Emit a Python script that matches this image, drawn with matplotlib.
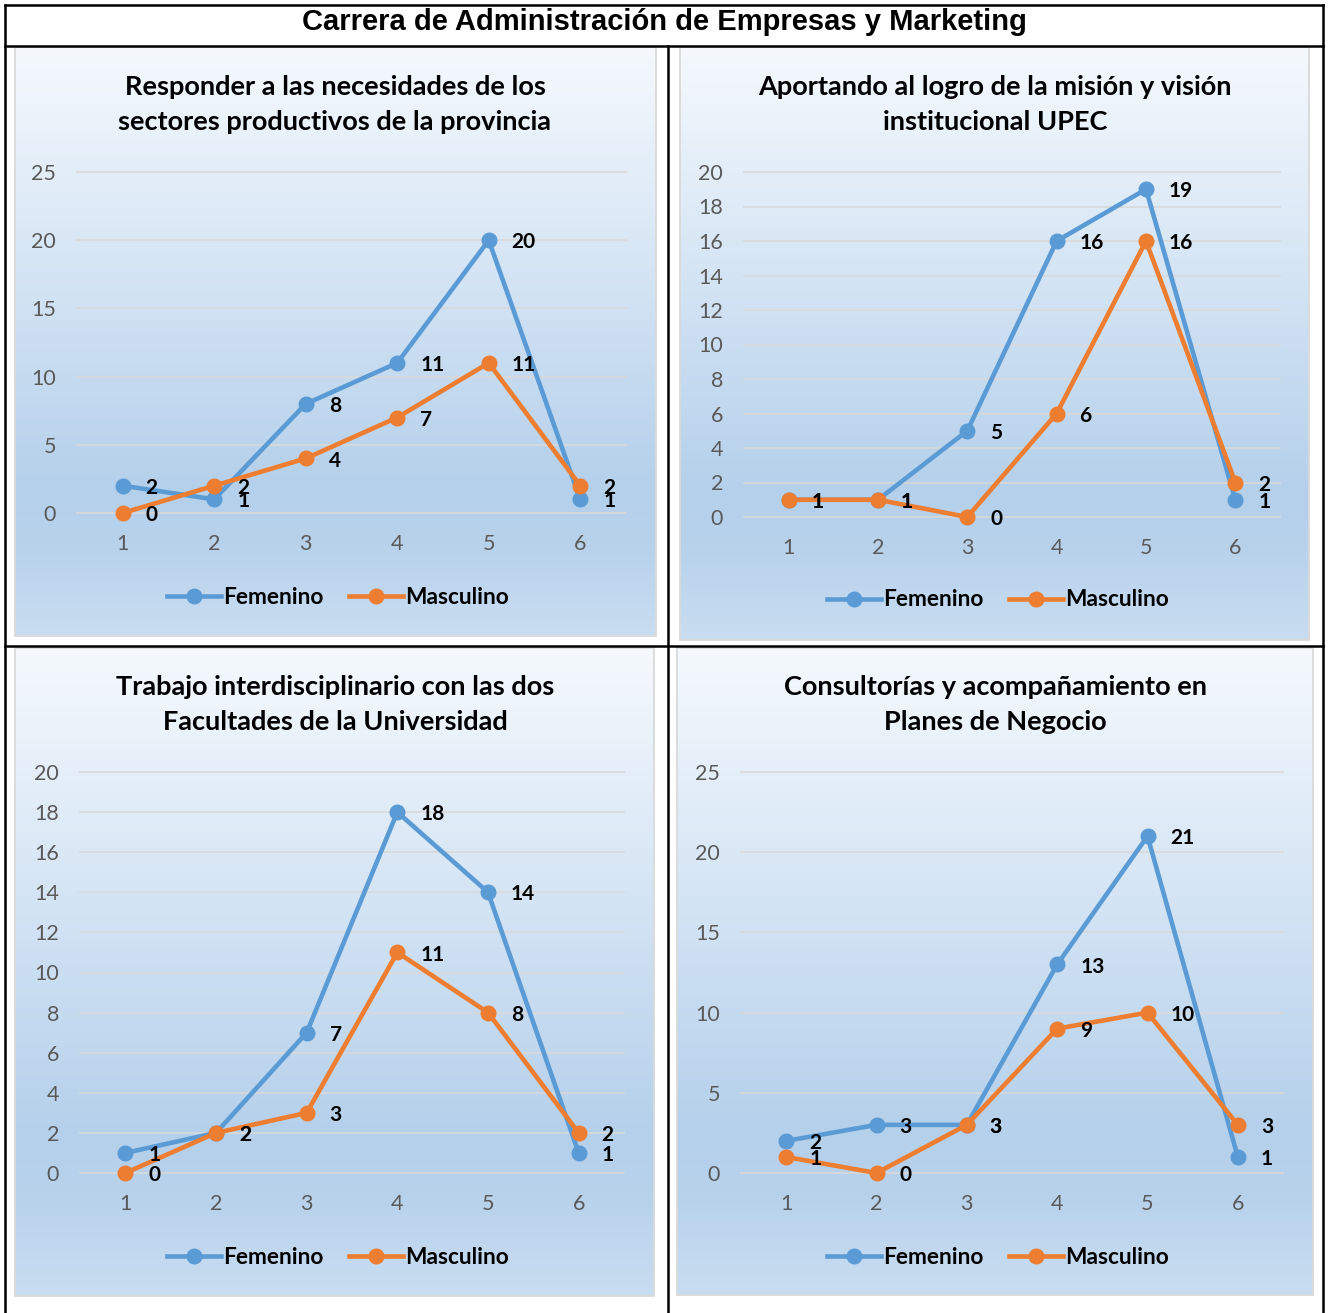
from __future__ import annotations

import matplotlib
import numpy as np
from matplotlib.colors import LinearSegmentedColormap
from matplotlib.lines import Line2D
from matplotlib.patches import Rectangle

matplotlib.use("Agg")
import matplotlib.pyplot as plt

W, H = 1330, 1313

header = "Carrera de Administración de Empresas y Marketing"
categories = [1, 2, 3, 4, 5, 6]
series_names = ["Femenino", "Masculino"]

titles = [
    ["Responder a las necesidades de los", "sectores productivos de la provincia"],
    ["Aportando al logro de la misión y visión", "institucional UPEC"],
    ["Trabajo interdisciplinario con las dos", "Facultades de la Universidad"],
    ["Consultorías y acompañamiento en", "Planes de Negocio"],
]

fem_sectores = [2, 1, 8, 11, 20, 1]
masc_sectores = [0, 2, 4, 7, 11, 2]
fem_mision = [1, 1, 5, 16, 19, 1]
masc_mision = [1, 1, 0, 6, 16, 2]
fem_interdis = [1, 2, 7, 18, 14, 1]
masc_interdis = [0, 2, 3, 11, 8, 2]
fem_consult = [2, 3, 3, 13, 21, 1]
masc_consult = [1, 0, 3, 9, 10, 3]

y_max = [25, 20, 20, 25]
y_step = [5, 2, 2, 5]

BLUE = "#5b9bd5"
ORANGE = "#ed7d31"
FONT = "Lato"

# pixel boxes (x0, y0, x1, y1) measured on the reference
panel_boxes = [(15, 47, 656, 636), (680, 47, 1309, 640),
               (15, 648, 654, 1296), (677, 648, 1313, 1295)]
plot_boxes = [(77, 172, 626, 513), (744, 172, 1280, 517),
              (80, 772, 624, 1173), (741, 772, 1283, 1173)]
title_centers = [(335, 87, 122), (995, 87, 122), (335, 687, 722), (995, 687, 722)]
legend_centers = [(338, 597), (998, 600), (338, 1257), (998, 1257)]


def _rect(box: tuple[int, int, int, int]) -> list[float]:
    x0, y0, x1, y1 = box
    return [x0 / W, 1 - y1 / H, (x1 - x0) / W, (y1 - y0) / H]


grad = LinearSegmentedColormap.from_list(
    "panel",
    [(0.0, "#f5f9fd"), (0.45, "#cfe1f3"), (0.75, "#b5d0eb"), (0.85, "#b8d2ec"), (1.0, "#c9ddf1")],
)

fig = plt.figure(figsize=(W / 100, H / 100), dpi=100)

# table borders
for x0, y0, x1, y1 in [(5, 5, 1323, 5), (5, 46, 1323, 46), (5, 646, 1323, 646),
                       (5, 5, 5, 1313), (1323, 5, 1323, 1313), (668, 46, 668, 1313)]:
    fig.add_artist(Line2D([x0 / W, x1 / W], [1 - y0 / H, 1 - y1 / H],
                          color="black", linewidth=1.8, transform=fig.transFigure))

fig.text(664 / W, 1 - 22 / H, header, ha="center", va="center",
         fontsize=21, fontweight="bold", family="Liberation Sans")

panel_data = [
    (fem_sectores, masc_sectores),
    (fem_mision, masc_mision),
    (fem_interdis, masc_interdis),
    (fem_consult, masc_consult),
]

for i, (fem, masc) in enumerate(panel_data):
    bg = fig.add_axes(_rect(panel_boxes[i]), zorder=0)
    bg.imshow(np.linspace(0, 1, 256).reshape(-1, 1), cmap=grad, aspect="auto",
              extent=(0, 1, 0, 1))
    bg.add_patch(Rectangle((0, 0), 1, 1, transform=bg.transAxes, fill=False,
                           edgecolor="#d9d9d9", linewidth=1.3, clip_on=False))
    bg.set_axis_off()

    ax = fig.add_axes(_rect(plot_boxes[i]), zorder=1)
    ax.patch.set_alpha(0)
    for sp in ax.spines.values():
        sp.set_visible(False)

    lines = []
    for vals, color, name in [(fem, BLUE, series_names[0]), (masc, ORANGE, series_names[1])]:
        (ln,) = ax.plot(categories, vals, color=color, linewidth=3.3, marker="o",
                        markersize=10.5, label=name, clip_on=False, zorder=3)
        lines.append(ln)
        for x, v in zip(categories, vals):
            ax.annotate(str(v), (x, v), xytext=(16.5, -1.5), textcoords="offset points",
                        ha="left", va="center", fontsize=15, fontweight="bold",
                        family=FONT, color="black", zorder=4)

    ax.set_xlim(0.5, 6.5)
    ax.set_ylim(0, y_max[i])
    ax.set_xticks(categories)
    ax.set_yticks(np.arange(0, y_max[i] + 1, y_step[i]))
    ax.grid(axis="y", color="#d9d9d9", linewidth=1.2, zorder=1)
    for gl in ax.get_ygridlines():
        gl.set_clip_on(False)
    ax.set_axisbelow(True)
    ax.tick_params(axis="both", length=0, labelsize=15.5, labelcolor="#595959")
    ax.tick_params(axis="y", pad=15)
    ax.tick_params(axis="x", pad=15)
    for lab in ax.get_xticklabels() + ax.get_yticklabels():
        lab.set_family(FONT)

    cx, y1, y2 = title_centers[i]
    for line_text, ty in zip(titles[i], (y1, y2)):
        fig.text(cx / W, 1 - ty / H, line_text, ha="center", va="center",
                 fontsize=19.5, fontweight="bold", family=FONT, color="black")

    lx, ly = legend_centers[i]
    ax.legend(lines, series_names, loc="center", bbox_to_anchor=(lx / W, 1 - ly / H),
              bbox_transform=fig.transFigure, ncol=2, frameon=False,
              prop={"family": FONT, "weight": "bold", "size": 16.3},
              handlelength=2.35, handletextpad=0.1, columnspacing=1.15, borderpad=0)

fig.savefig("out.png", dpi=100)
plt.close(fig)
